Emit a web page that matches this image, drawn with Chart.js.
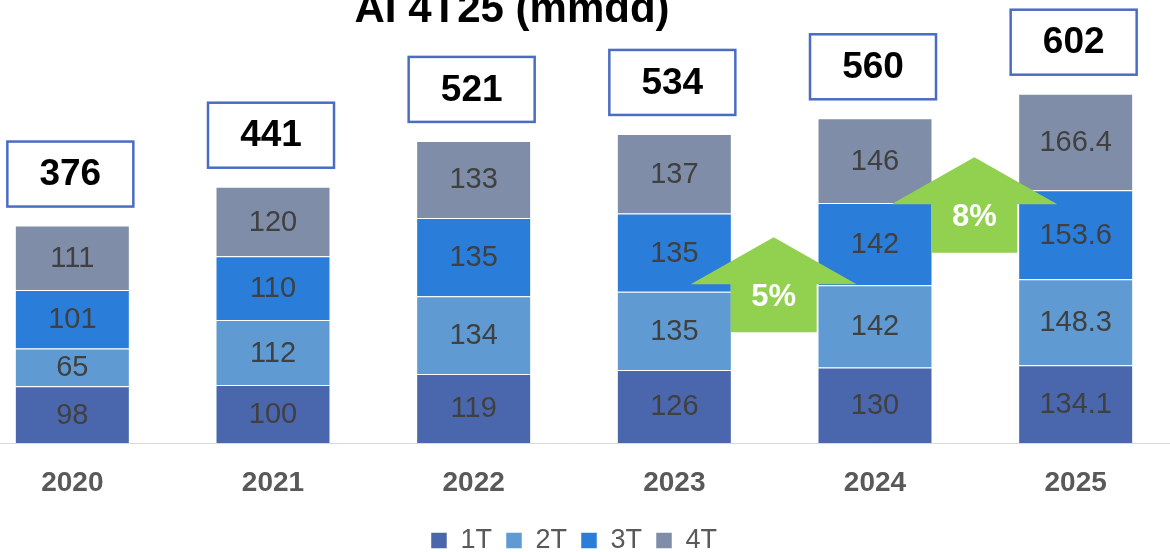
<!DOCTYPE html>
<html>
<head>
<meta charset="utf-8">
<script src="https://cdn.jsdelivr.net/npm/chart.js@4"></script>
<style>
  html, body { margin: 0; padding: 0; background: #fff; overflow: hidden; }
  .chart-wrap { position: absolute; left: -28px; top: 0; width: 1204px; height: 552px; }
</style>
</head>
<body>
<div class="chart-wrap">
  <canvas id="chart"></canvas>
</div>
<script>
const chartTitle = 'AI 4T25 (mmdd)';
const years = ['2020', '2021', '2022', '2023', '2024', '2025'];
const q1 = [98, 100, 119, 126, 130, 134.1];
const q2 = [65, 112, 134, 135, 142, 148.3];
const q3 = [101, 110, 135, 135, 142, 153.6];
const q4 = [111, 120, 133, 137, 146, 166.4];
const totals = [376, 441, 521, 534, 560, 602];

// growth arrows between two years (left index), value range of the arrow
const growthLabels = ['5%', '8%'];
const growthFrom = [3, 4];
const growthBase = [191, 328];
const growthTip = [355, 493];

const FONT = "'Liberation Sans', Arial, sans-serif";

const barLabels = {
  id: 'barLabels',
  afterDatasetsDraw(chart) {
    const ctx = chart.ctx;
    ctx.save();
    ctx.font = '29px ' + FONT;
    ctx.fillStyle = '#404040';
    ctx.textAlign = 'center';
    ctx.textBaseline = 'middle';
    chart.data.datasets.forEach((ds, i) => {
      chart.getDatasetMeta(i).data.forEach((bar, j) => {
        ctx.fillText(String(ds.data[j]), bar.x, (bar.y + bar.base) / 2 + 1);
      });
    });

    // total boxes
    const yScale = chart.scales.y;
    const lastMeta = chart.getDatasetMeta(chart.data.datasets.length - 1);
    lastMeta.data.forEach((bar, j) => {
      const bw = 126, bh = 65;
      const bottom = bar.y - 19;
      const left = bar.x - bw / 2 - 2;
      ctx.fillStyle = '#ffffff';
      ctx.fillRect(left, bottom - bh, bw, bh);
      ctx.strokeStyle = '#4A6DC3';
      ctx.lineWidth = 2.5;
      ctx.strokeRect(left, bottom - bh, bw, bh);
      ctx.fillStyle = '#000000';
      ctx.font = 'bold 37px ' + FONT;
      ctx.fillText(String(totals[j]), left + bw / 2, bottom - bh / 2 + 1);
    });

    // growth arrows
    const xScale = chart.scales.x;
    growthLabels.forEach((lbl, k) => {
      const cx = (xScale.getPixelForValue(growthFrom[k]) + xScale.getPixelForValue(growthFrom[k] + 1)) / 2 - 1;
      const yTip = yScale.getPixelForValue(growthTip[k]);
      const yBase = yScale.getPixelForValue(growthBase[k]);
      const yWing = yTip + 47;
      const headHalf = 83, shaftHalf = 43;
      ctx.beginPath();
      ctx.moveTo(cx, yTip);
      ctx.lineTo(cx + headHalf, yWing);
      ctx.lineTo(cx + shaftHalf, yWing);
      ctx.lineTo(cx + shaftHalf, yBase);
      ctx.lineTo(cx - shaftHalf, yBase);
      ctx.lineTo(cx - shaftHalf, yWing);
      ctx.lineTo(cx - headHalf, yWing);
      ctx.closePath();
      ctx.fillStyle = '#92D050';
      ctx.fill();
      ctx.fillStyle = '#ffffff';
      ctx.font = 'bold 31px ' + FONT;
      ctx.fillText(lbl, cx, yWing + 13);
    });

    // title
    ctx.fillStyle = '#000000';
    ctx.font = 'bold 42px ' + FONT;
    ctx.textBaseline = 'alphabetic';
    ctx.fillText(chartTitle, 540, 22);
    ctx.restore();
  }
};

const segBorder = 'rgba(255,255,255,0.5)';

new Chart(document.getElementById('chart'), {
  type: 'bar',
  data: {
    labels: years,
    datasets: [
      { label: '1T', data: q1, backgroundColor: '#4A66AC', borderColor: segBorder, borderWidth: 1 },
      { label: '2T', data: q2, backgroundColor: '#5F9BD2', borderColor: segBorder, borderWidth: 1 },
      { label: '3T', data: q3, backgroundColor: '#2A7DD8', borderColor: segBorder, borderWidth: 1 },
      { label: '4T', data: q4, backgroundColor: '#7F8DA8', borderColor: segBorder, borderWidth: 1 },
    ],
  },
  options: {
    responsive: true,
    maintainAspectRatio: false,
    animation: false,
    categoryPercentage: 1,
    barPercentage: 0.573,
    layout: { padding: { top: 0, left: 0, right: 0, bottom: -12 } },
    plugins: {
      title: { display: false },
      tooltip: { enabled: false },
      legend: {
        position: 'bottom',
        labels: {
          boxWidth: 16,
          boxHeight: 16,
          padding: 14,
          color: '#595959',
          font: { family: FONT, size: 27 },
        },
      },
    },
    scales: {
      x: {
        stacked: true,
        grid: { display: false, drawTicks: false },
        border: { display: true, color: '#D9D9D9', width: 1 },
        ticks: { color: '#595959', padding: 23, font: { family: FONT, size: 28, weight: 'bold' } },
        afterFit(axis) { axis.height = 70; },
      },
      y: {
        stacked: true,
        display: false,
        min: 0,
        max: 764,
      },
    },
  },
  plugins: [barLabels],
});
</script>
</body>
</html>
